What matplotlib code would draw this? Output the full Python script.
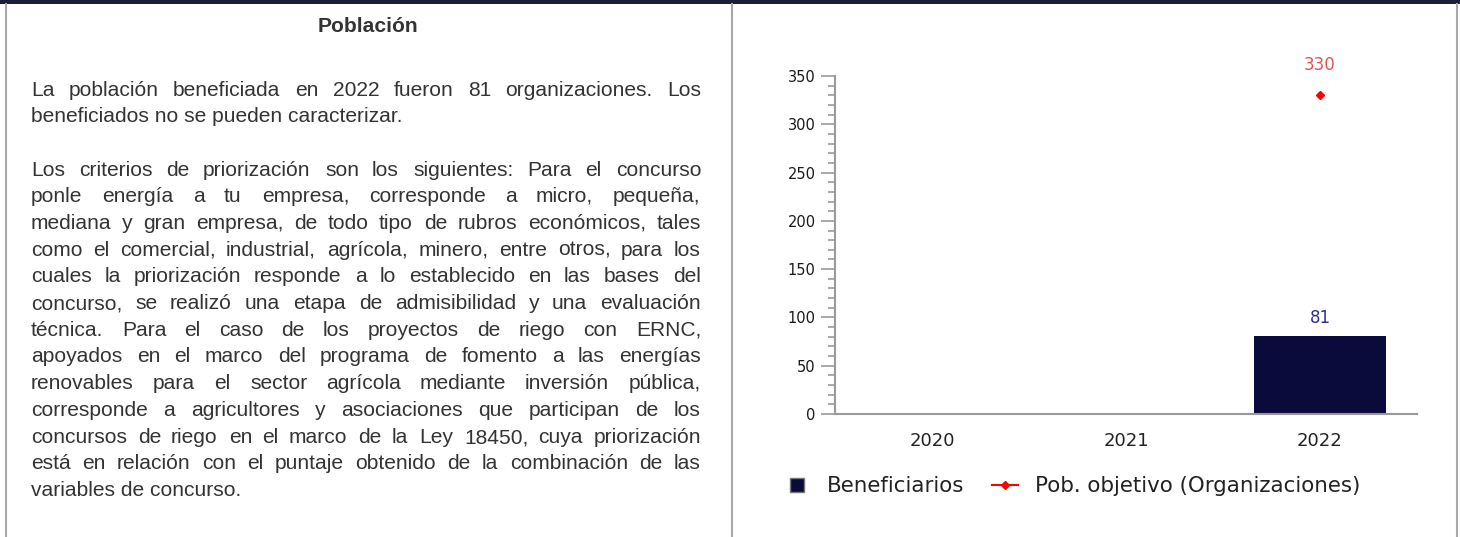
import numpy as np
import matplotlib.pyplot as plt
from matplotlib.lines import Line2D
from matplotlib.patches import Rectangle
from matplotlib.ticker import MultipleLocator

# data
years = ['2020', '2021', '2022']
beneficiarios = [0, 0, 81]
pob_objetivo = [np.nan, np.nan, 330]

title = 'Población'
parrafo1 = [
    'La población beneficiada en 2022 fueron 81 organizaciones. Los',
    'beneficiados no se pueden caracterizar.',
]
parrafo2 = [
    'Los criterios de priorización son los siguientes: Para el concurso',
    'ponle energía a tu empresa, corresponde a micro, pequeña,',
    'mediana y gran empresa, de todo tipo de rubros económicos, tales',
    'como el comercial, industrial, agrícola, minero, entre otros, para los',
    'cuales la priorización responde a lo establecido en las bases del',
    'concurso, se realizó una etapa de admisibilidad y una evaluación',
    'técnica. Para el caso de los proyectos de riego con ERNC,',
    'apoyados en el marco del programa de fomento a las energías',
    'renovables para el sector agrícola mediante inversión pública,',
    'corresponde a agricultores y asociaciones que participan de los',
    'concursos de riego en el marco de la Ley 18450, cuya priorización',
    'está en relación con el puntaje obtenido de la combinación de las',
    'variables de concurso.',
]

W, H = 1460, 537
fig = plt.figure(figsize=(W / 100, H / 100), dpi=100)
renderer = fig.canvas.get_renderer()

# table frame
fig.add_artist(Rectangle((0, 1 - 4 / H), 1, 4 / H, transform=fig.transFigure,
                         color='#1c1e35', lw=0))
for xb in [6, 732, 1457]:
    fig.add_artist(Line2D([xb / W, xb / W], [0, 1 - 4 / H], transform=fig.transFigure,
                          color='#a8a8a8', lw=1.5))

# left column text (justified)
txt_kw = dict(family=['Liberation Sans', 'DejaVu Sans'], fontsize=15.1, color='#333333')
fig.text(368 / W, 1 - 26 / H, title, ha='center', va='center', fontweight='bold', **txt_kw)

X0, X1 = 31, 701
LINE = 26.7


def draw_line(line, yc, last):
    yb = round(yc + 7.5) 
    yb = 1 - yb / H
    if last:
        fig.text(X0 / W, yb, line, ha='left', va='baseline', **txt_kw)
        return
    words = line.split(' ')
    items = [fig.text(0, yb, w, ha='left', va='baseline', **txt_kw) for w in words]
    widths = [t.get_window_extent(renderer).width for t in items]
    gap = (X1 - X0 - sum(widths)) / (len(words) - 1)
    x = X0
    for t, wd in zip(items, widths):
        t.set_x(round(x) / W)
        x += wd + gap


y = 88
for par in [parrafo1, parrafo2]:
    for i, line in enumerate(par):
        draw_line(line, y, i == len(par) - 1)
        y += LINE
    y += LINE

# chart
ax = fig.add_axes([835 / W, 1 - 414 / H, 582 / W, 338 / H])
x = np.arange(len(years))
ax.bar(x, beneficiarios, width=0.68, color='#0b0b3b', zorder=2)
ax.plot(x, pob_objetivo, color='red', marker='D', ms=4.5, lw=1.5, zorder=3)

for i, v in enumerate(beneficiarios):
    if v > 0:
        ax.annotate(str(v), (i, v), xytext=(0, 13), textcoords='offset points',
                    ha='center', va='center', color='#2e3192', fontsize=12)
for i, v in enumerate(pob_objetivo):
    if not np.isnan(v):
        ax.annotate(str(v), (i, v), xytext=(0, 22), textcoords='offset points',
                    ha='center', va='center', color='#dd5555', fontsize=12)

ax.set_xlim(-0.5, 2.5)
ax.set_ylim(0, 350)
ax.set_xticks(x)
ax.set_xticklabels(years, fontsize=13, color='#222222')
ax.yaxis.set_major_locator(MultipleLocator(50))
ax.yaxis.set_minor_locator(MultipleLocator(10))
ax.tick_params(axis='y', which='major', length=10, width=1.2, color='#999999',
               labelsize=10.5, labelcolor='#1a1a1a', pad=4)
ax.tick_params(axis='y', which='minor', length=5, width=1.2, color='#999999')
ax.tick_params(axis='x', length=0, pad=13)
for s in ['top', 'right']:
    ax.spines[s].set_visible(False)
for s in ['left', 'bottom']:
    ax.spines[s].set_color('#999999')
    ax.spines[s].set_linewidth(1.5)

handles = [
    Line2D([], [], marker='s', ls='none', markerfacecolor='#0b0b3b',
           markeredgecolor='#777777', ms=10),
    Line2D([], [], color='red', marker='D', ms=4, lw=1.5),
]
fig.legend(handles, ['Beneficiarios', 'Pob. objetivo (Organizaciones)'],
           loc='center left', bbox_to_anchor=(784 / W, 1 - 486 / H), ncol=2,
           frameon=False, fontsize=15.4, handlelength=1.2, handletextpad=0.8,
           columnspacing=1.3, borderaxespad=0, borderpad=0, labelcolor='#222222')

fig.savefig('out.png', dpi=100)
